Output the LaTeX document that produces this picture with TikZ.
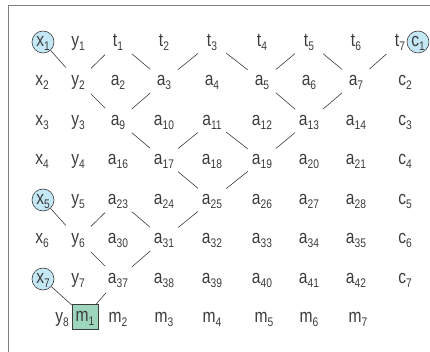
\documentclass[tikz,border=0pt]{standalone}
\usepackage{fontspec}
\setmainfont{Liberation Sans}[FakeStretch=0.82]
\definecolor{nodeblue}{HTML}{C4E8F6}
\definecolor{nodegreen}{HTML}{9ED6BD}
\definecolor{inkgray}{HTML}{3C3C3C}
\newcommand{\vlab}[2]{#1\raisebox{-4pt}{\fontsize{12.5}{13}\selectfont #2}}

\begin{document}
\begin{tikzpicture}[x=1pt, y=-1pt,
    cell/.style={circle, minimum size=36pt, inner sep=0pt, text=inkgray, font=\fontsize{19}{22}\selectfont, text height=13pt, text depth=4pt},
    hilite/.style={cell, draw=inkgray, fill=nodeblue, minimum size=22pt, line width=0.6pt},
    startbox/.style={cell, rectangle, draw=inkgray, fill=nodegreen, minimum width=26pt, minimum height=25pt, line width=0.6pt},
    line/.style={draw, inkgray, line width=0.6pt}]

    \useasboundingbox (0,0) rectangle (430,352);
    \draw [gray, line width=0.8pt] (8.5,352) -- (8.5,5) -- (430,5);

    % Row 1
    \node [hilite] (x1) at (43,42) {\vlab{x}{1}};
    \node [cell] (y1) at (78,42) {\vlab{y}{1}};
    \node [cell] (t1) at (118,42) {\vlab{t}{1}};
    \node [cell] (t2) at (164,42) {\vlab{t}{2}};
    \node [cell] (t3) at (212,42) {\vlab{t}{3}};
    \node [cell] (t4) at (262,42) {\vlab{t}{4}};
    \node [cell] (t5) at (309,42) {\vlab{t}{5}};
    \node [cell] (t6) at (356,42) {\vlab{t}{6}};
    \node [cell] (t7) at (400,42) {\vlab{t}{7}};
    \node [hilite] (c1) at (418,42) {\vlab{c}{1}};

    % Row 2
    \node [cell] (x2) at (42,81) {\vlab{x}{2}};
    \node [cell] (y2) at (78,81) {\vlab{y}{2}};
    \node [cell] (a2) at (118,81) {\vlab{a}{2}};
    \node [cell] (a3) at (164,81) {\vlab{a}{3}};
    \node [cell] (a4) at (212,81) {\vlab{a}{4}};
    \node [cell] (a5) at (262,81) {\vlab{a}{5}};
    \node [cell] (a6) at (309,81) {\vlab{a}{6}};
    \node [cell] (a7) at (356,81) {\vlab{a}{7}};
    \node [cell] (c2) at (405,81) {\vlab{c}{2}};

    % Row 3
    \node [cell] (x3) at (42,121) {\vlab{x}{3}};
    \node [cell] (y3) at (78,121) {\vlab{y}{3}};
    \node [cell] (a9) at (118,121) {\vlab{a}{9}};
    \node [cell] (a10) at (164,121) {\vlab{a}{10}};
    \node [cell] (a11) at (212,121) {\vlab{a}{11}};
    \node [cell] (a12) at (262,121) {\vlab{a}{12}};
    \node [cell] (a13) at (309,121) {\vlab{a}{13}};
    \node [cell] (a14) at (356,121) {\vlab{a}{14}};
    \node [cell] (c3) at (405,121) {\vlab{c}{3}};

    % Row 4
    \node [cell] (x4) at (42,160) {\vlab{x}{4}};
    \node [cell] (y4) at (78,160) {\vlab{y}{4}};
    \node [cell] (a16) at (118,160) {\vlab{a}{16}};
    \node [cell] (a17) at (164,160) {\vlab{a}{17}};
    \node [cell] (a18) at (212,160) {\vlab{a}{18}};
    \node [cell] (a19) at (262,160) {\vlab{a}{19}};
    \node [cell] (a20) at (309,160) {\vlab{a}{20}};
    \node [cell] (a21) at (356,160) {\vlab{a}{21}};
    \node [cell] (c4) at (405,160) {\vlab{c}{4}};

    % Row 5
    \node [hilite] (x5) at (43,200) {\vlab{x}{5}};
    \node [cell] (y5) at (78,200) {\vlab{y}{5}};
    \node [cell] (a23) at (118,200) {\vlab{a}{23}};
    \node [cell] (a24) at (164,200) {\vlab{a}{24}};
    \node [cell] (a25) at (212,200) {\vlab{a}{25}};
    \node [cell] (a26) at (262,200) {\vlab{a}{26}};
    \node [cell] (a27) at (309,200) {\vlab{a}{27}};
    \node [cell] (a28) at (356,200) {\vlab{a}{28}};
    \node [cell] (c5) at (405,200) {\vlab{c}{5}};

    % Row 6
    \node [cell] (x6) at (42,239) {\vlab{x}{6}};
    \node [cell] (y6) at (78,239) {\vlab{y}{6}};
    \node [cell] (a30) at (118,239) {\vlab{a}{30}};
    \node [cell] (a31) at (164,239) {\vlab{a}{31}};
    \node [cell] (a32) at (212,239) {\vlab{a}{32}};
    \node [cell] (a33) at (262,239) {\vlab{a}{33}};
    \node [cell] (a34) at (309,239) {\vlab{a}{34}};
    \node [cell] (a35) at (356,239) {\vlab{a}{35}};
    \node [cell] (c6) at (405,239) {\vlab{c}{6}};

    % Row 7
    \node [hilite] (x7) at (43,279) {\vlab{x}{7}};
    \node [cell] (y7) at (78,279) {\vlab{y}{7}};
    \node [cell] (a37) at (118,279) {\vlab{a}{37}};
    \node [cell] (a38) at (164,279) {\vlab{a}{38}};
    \node [cell] (a39) at (212,279) {\vlab{a}{39}};
    \node [cell] (a40) at (262,279) {\vlab{a}{40}};
    \node [cell] (a41) at (309,279) {\vlab{a}{41}};
    \node [cell] (a42) at (356,279) {\vlab{a}{42}};
    \node [cell] (c7) at (405,279) {\vlab{c}{7}};

    % Row 8
    \node [cell] (y8) at (62,318) {\vlab{y}{8}};
    \node [startbox] (m1) at (85,317) {\vlab{m}{1}};
    \node [cell] (m2) at (118,318) {\vlab{m}{2}};
    \node [cell] (m3) at (164,318) {\vlab{m}{3}};
    \node [cell] (m4) at (212,318) {\vlab{m}{4}};
    \node [cell] (m5) at (264,318) {\vlab{m}{5}};
    \node [cell] (m6) at (309,318) {\vlab{m}{6}};
    \node [cell] (m7) at (358,318) {\vlab{m}{7}};

    % Paths
    \path [line] (x1) -- (y2);
    \path [line] (y2) -- (t1);
    \path [line] (t1) -- (a3);
    \path [line] (a3) -- (t3);
    \path [line] (t3) -- (a5);
    \path [line] (a5) -- (t5);
    \path [line] (t5) -- (a7);
    \path [line] (a7) -- (t7);
    \path [line] (y2) -- (a9);
    \path [line] (a9) -- (a3);
    \path [line] (a5) -- (a13);
    \path [line] (a13) -- (a7);
    \path [line] (a9) -- (a17);
    \path [line] (a17) -- (a11);
    \path [line] (a11) -- (a19);
    \path [line] (a19) -- (a13);
    \path [line] (a17) -- (a25);
    \path [line] (a25) -- (a19);
    \path [line] (x5) -- (y6);
    \path [line] (y6) -- (a23);
    \path [line] (a23) -- (a31);
    \path [line] (a31) -- (a25);
    \path [line] (y6) -- (a37);
    \path [line] (a37) -- (a31);
    \path [line] (x7) -- (m1);
    \path [line] (m1) -- (a37);
\end{tikzpicture}
\end{document}
